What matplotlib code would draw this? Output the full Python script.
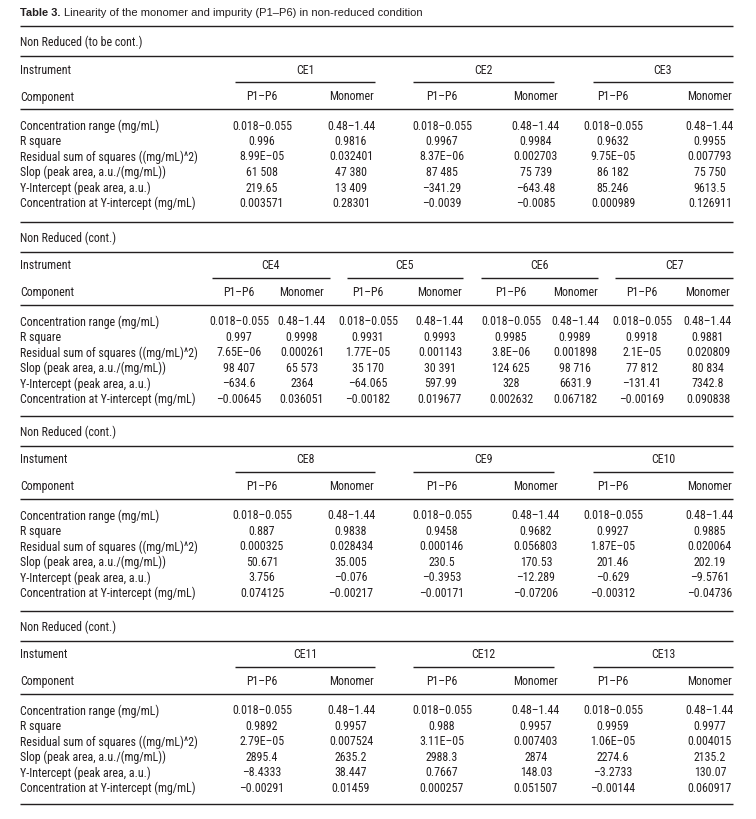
import matplotlib
matplotlib.use("Agg")
import matplotlib.pyplot as plt
from matplotlib import font_manager

# table content
row_labels = [
    "Concentration range (mg/mL)",
    "R square",
    "Residual sum of squares ((mg/mL)^2)",
    "Slop (peak area, a.u./(mg/mL))",
    "Y-Intercept (peak area, a.u.)",
    "Concentration at Y-intercept (mg/mL)",
]
instruments = ["CE1", "CE2", "CE3", "CE4", "CE5", "CE6", "CE7",
               "CE8", "CE9", "CE10", "CE11", "CE12", "CE13"]

conc_range_p1p6 = ["0.018–0.055"] * 13
conc_range_mono = ["0.48–1.44"] * 13
r_square_p1p6 = ["0.996", "0.9967", "0.9632", "0.997", "0.9931", "0.9985", "0.9918",
                 "0.887", "0.9458", "0.9927", "0.9892", "0.988", "0.9959"]
r_square_mono = ["0.9816", "0.9984", "0.9955", "0.9998", "0.9993", "0.9989", "0.9881",
                 "0.9838", "0.9682", "0.9885", "0.9957", "0.9957", "0.9977"]
rss_p1p6 = ["8.99E–05", "8.37E–06", "9.75E–05", "7.65E–06", "1.77E–05", "3.8E–06", "2.1E–05",
            "0.000325", "0.000146", "1.87E–05", "2.79E–05", "3.11E–05", "1.06E–05"]
rss_mono = ["0.032401", "0.002703", "0.007793", "0.000261", "0.001143", "0.001898", "0.020809",
            "0.028434", "0.056803", "0.020064", "0.007524", "0.007403", "0.004015"]
slope_p1p6 = ["61 508", "87 485", "86 182", "98 407", "35 170", "124 625", "77 812",
              "50.671", "230.5", "201.46", "2895.4", "2988.3", "2274.6"]
slope_mono = ["47 380", "75 739", "75 750", "65 573", "30 391", "98 716", "80 834",
              "35.005", "170.53", "202.19", "2635.2", "2874", "2135.2"]
yint_p1p6 = ["219.65", "–341.29", "85.246", "–634.6", "–64.065", "328", "–131.41",
             "3.756", "–0.3953", "–0.629", "–8.4333", "0.7667", "–3.2733"]
yint_mono = ["13 409", "–643.48", "9613.5", "2364", "597.99", "6631.9", "7342.8",
             "–0.076", "–12.289", "–9.5761", "38.447", "148.03", "130.07"]
conc_y_p1p6 = ["0.003571", "–0.0039", "0.000989", "–0.00645", "–0.00182", "0.002632", "–0.00169",
               "0.074125", "–0.00171", "–0.00312", "–0.00291", "0.000257", "–0.00144"]
conc_y_mono = ["0.28301", "–0.0085", "0.126911", "0.036051", "0.019677", "0.067182", "0.090838",
               "–0.00217", "–0.07206", "–0.04736", "0.01459", "0.051507", "0.060917"]

p1p6_rows = [conc_range_p1p6, r_square_p1p6, rss_p1p6, slope_p1p6, yint_p1p6, conc_y_p1p6]
mono_rows = [conc_range_mono, r_square_mono, rss_mono, slope_mono, yint_mono, conc_y_mono]

section_titles = ["Non Reduced (to be cont.)", "Non Reduced (cont.)",
                  "Non Reduced (cont.)", "Non Reduced (cont.)"]
section_instr_label = ["Instrument", "Instrument", "Instument", "Instument"]
section_members = [[0, 1, 2], [3, 4, 5, 6], [7, 8, 9], [10, 11, 12]]

# layout (pixel coords)
section_tops = [27, 223, 417, 612]
layout3 = dict(p1=[262, 442, 613], mono=[351, 536, 710],
               sub=[(235, 375), (413, 554), (593, 733)])
layout4 = dict(p1=[239, 368, 511, 642], mono=[302, 440, 575, 708],
               sub=[(212, 330), (347, 463), (481, 598), (615, 733)])
X0, X1 = 20, 733
INK = "#231f20"


def pick_font(names, fallback):
    have = {f.name for f in font_manager.fontManager.ttflist}
    for n in names:
        if n in have:
            return n
    return fallback


cond = pick_font(["Liberation Sans Narrow", "Roboto Condensed", "DejaVu Sans"], "DejaVu Sans")
reg = pick_font(["Liberation Sans", "Roboto", "DejaVu Sans"], "DejaVu Sans")
fs = 8.6

fig = plt.figure(figsize=(7.56, 8.2), dpi=100)
ax = fig.add_axes([0, 0, 1, 1])
ax.set_xlim(0, 756)
ax.set_ylim(820, 0)
ax.axis("off")

# title: bold lead + regular rest
t = ax.text(X0, 13, "Table 3.", fontfamily=reg, fontweight="bold", fontsize=8.0,
            va="center", ha="left", color=INK)
fig.canvas.draw()
bb = t.get_window_extent()
x_after = ax.transData.inverted().transform((bb.x1, bb.y0))[0]
ax.text(x_after + 3, 13, "Linearity of the monomer and impurity (P1–P6) in non-reduced condition",
        fontfamily=reg, fontsize=8.0, va="center", ha="left", color=INK)


def hline(y, x0=X0, x1=X1, lw=1.0):
    ax.plot([x0, x1], [y, y], color=INK, lw=lw, solid_capstyle="butt")


def txt(x, y, s, ha="center"):
    ax.text(x, y, s, fontfamily=cond, fontsize=fs, ha=ha, va="center", color=INK)


for si, top in enumerate(section_tops):
    members = section_members[si]
    lay = layout3 if len(members) == 3 else layout4
    hline(top)
    txt(X0, top + 15, section_titles[si], ha="left")
    hline(top + 30)
    txt(X0, top + 43, section_instr_label[si], ha="left")
    txt(X0, top + 70, "Component", ha="left")
    hline(top + 83)
    for ci, k in enumerate(members):
        sx0, sx1 = lay["sub"][ci]
        txt((sx0 + sx1) / 2, top + 43, instruments[k])
        hline(top + 56, sx0, sx1)
        txt(lay["p1"][ci], top + 70, "P1–P6")
        txt(lay["mono"][ci], top + 70, "Monomer")
    for ri, lab in enumerate(row_labels):
        y = top + 99 + ri * 15.5
        txt(X0, y, lab, ha="left")
        for ci, k in enumerate(members):
            txt(lay["p1"][ci], y, p1p6_rows[ri][k])
            txt(lay["mono"][ci], y, mono_rows[ri][k])

hline(805)

fig.savefig("out.png", dpi=100, facecolor="white")
